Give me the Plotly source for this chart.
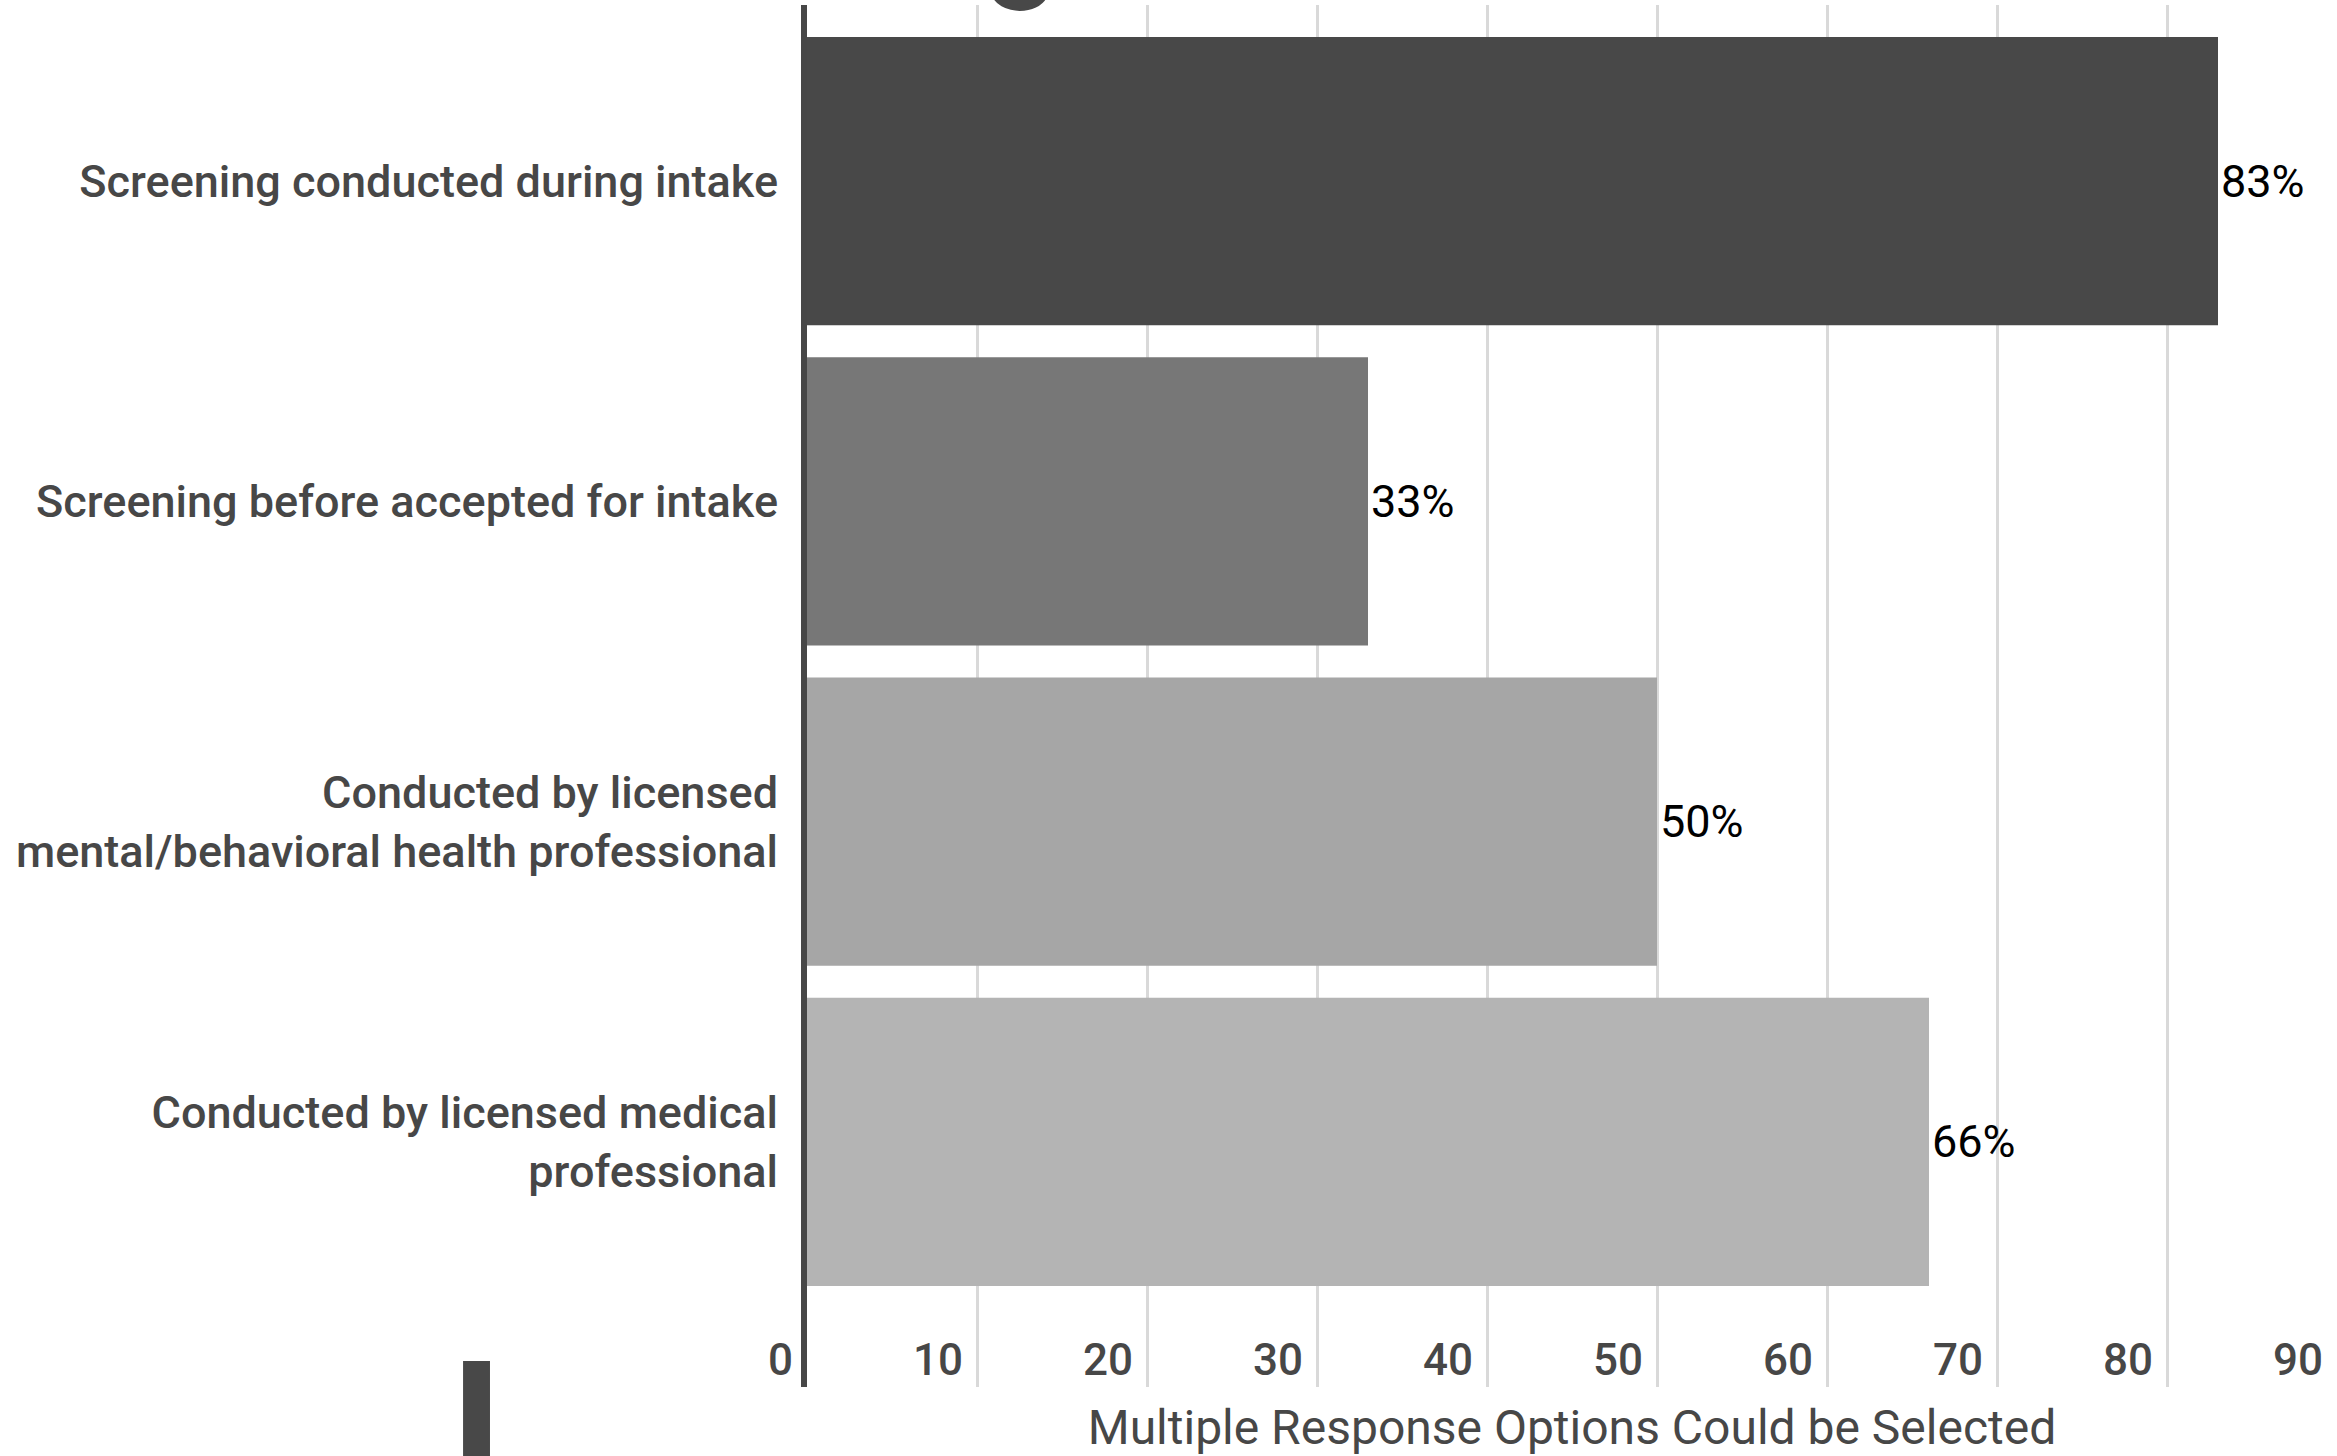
import plotly.graph_objects as go

categories = [
    "Screening conducted during intake",
    "Screening before accepted for intake",
    "Conducted by licensed<br>mental/behavioral health professional",
    "Conducted by licensed medical<br>professional",
]
values = [83, 33, 50, 66]
bar_colors = ["#484848", "#777777", "#a6a6a6", "#b4b4b4"]
x_ticks = [0, 10, 20, 30, 40, 50, 60, 70, 80, 90]
x_title = "Multiple Response Options Could be Selected"

W, H = 2337, 1456
L, T, B, R = 807, 5, 69, 0

fig = go.Figure()
fig.add_trace(go.Bar(
    y=categories,
    x=values,
    orientation="h",
    marker=dict(color=bar_colors, line=dict(width=0)),
    texttemplate="%{x}%",
    textposition="outside",
    outsidetextfont=dict(family="Roboto", size=45, color="#000000"),
    constraintext="none",
    cliponaxis=False,
    hoverinfo="skip",
))

fig.update_layout(
    width=W, height=H,
    margin=dict(l=L, r=R, t=T, b=B, autoexpand=False),
    paper_bgcolor="white",
    plot_bgcolor="white",
    showlegend=False,
    bargap=0.1,
    font=dict(family="Roboto", color="#474747"),
    xaxis=dict(
        range=[0, 90],
        tickvals=x_ticks,
        ticks="",
        showgrid=True,
        gridcolor="#d9d9d9",
        gridwidth=3,
        zeroline=False,
        showline=False,
        ticklabelposition="outside left",
        ticklabelstandoff=-57,
        ticklabelshift=-14,
        tickfont=dict(family="Roboto", size=44, color="#474747", weight=500),
        automargin=False,
        title=dict(text=x_title, font=dict(family="Roboto", size=48, color="#474747"), standoff=25),
        fixedrange=True,
    ),
    yaxis=dict(
        type="category",
        categoryorder="array",
        categoryarray=categories,
        range=[3.765, -0.55],
        showline=True,
        linecolor="#474747",
        linewidth=6,
        ticks="",
        showgrid=False,
        zeroline=False,
        ticklabelstandoff=14,
        tickfont=dict(family="Roboto", size=45, color="#474747", weight=500),
        automargin=False,
        fixedrange=True,
    ),
    shapes=[
        dict(type="rect", xref="paper", yref="paper",
             x0=-0.2248, x1=-0.2072, y0=-0.06, y1=0.0188,
             fillcolor="#484848", line=dict(width=0), layer="above"),
    ],
    annotations=[
        dict(text="g", xref="paper", yref="paper", x=0.1405, y=0.9906,
             xanchor="center", yanchor="bottom", showarrow=False,
             font=dict(family="Roboto", size=130, color="#484848", weight=500)),
    ],
)

fig.write_html("out.html", config={"displayModeBar": False},
               post_script="document.body.style.margin='0';")
